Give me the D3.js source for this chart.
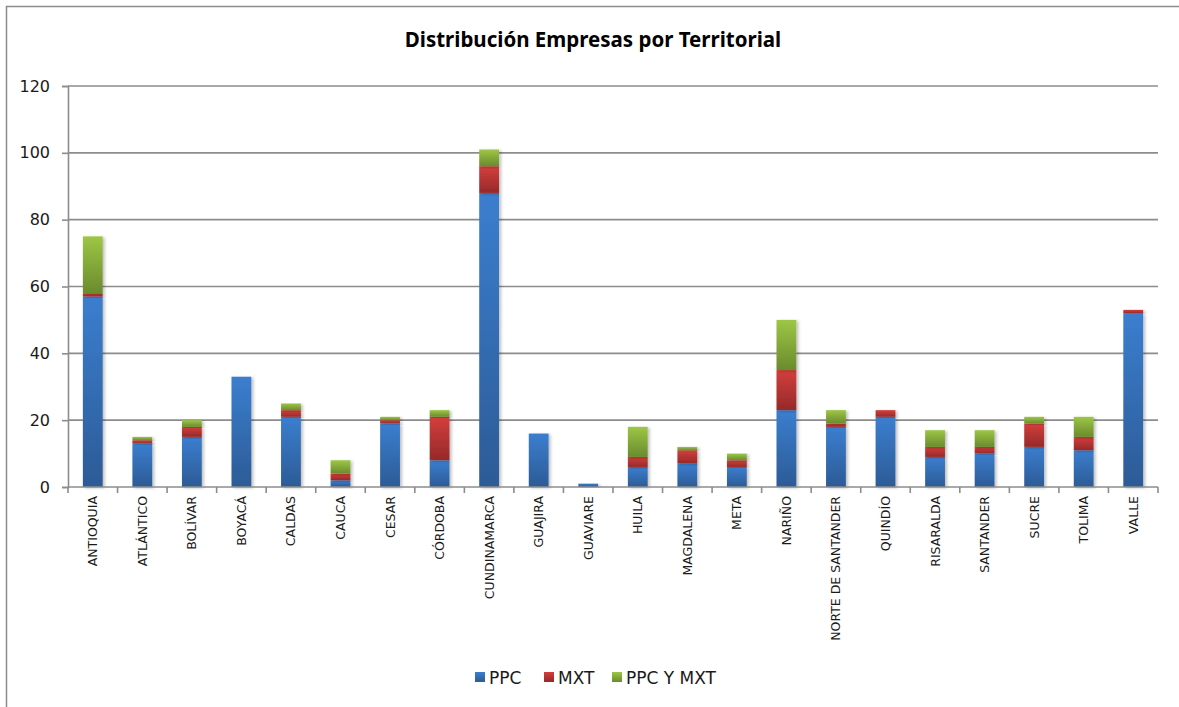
<!DOCTYPE html>
<html>
<head>
<meta charset="utf-8">
<script src="https://cdn.jsdelivr.net/npm/d3@7"></script>
<style>
  body { margin: 0; background: #fff; }
  text { font-family: "DejaVu Sans", sans-serif; fill: #1a1a1a; }
</style>
</head>
<body>
<svg id="chart"></svg>
<script>
var territoriales = ["ANTIOQUIA", "ATLÁNTICO", "BOLÍVAR", "BOYACÁ", "CALDAS", "CAUCA", "CESAR",
  "CÓRDOBA", "CUNDINAMARCA", "GUAJIRA", "GUAVIARE", "HUILA", "MAGDALENA", "META", "NARIÑO",
  "NORTE DE SANTANDER", "QUINDÍO", "RISARALDA", "SANTANDER", "SUCRE", "TOLIMA", "VALLE"];
var ppc     = [57, 13, 15, 33, 21, 2, 19, 8, 88, 16, 1, 6, 7, 6, 23, 18, 21, 9, 10, 12, 11, 52];
var mxt     = [1, 1, 3, 0, 2, 2, 1, 13, 8, 0, 0, 3, 4, 2, 12, 1, 2, 3, 2, 7, 4, 1];
var ppcYmxt = [17, 1, 2, 0, 2, 4, 1, 2, 5, 0, 0, 9, 1, 2, 15, 4, 0, 5, 5, 2, 6, 0];
var seriesNames = ["PPC", "MXT", "PPC Y MXT"];
var yTicks = [0, 20, 40, 60, 80, 100, 120];

var width = 1179, height = 707;
var margin = {left: 68, right: 21, top: 86, bottom: 220};

var svg = d3.select("#chart").attr("width", width).attr("height", height);

// gradients per series: lighter on top, darker at bottom
var grads = [
  ["#3b7ecf", "#2c5b96"],
  ["#d33f3c", "#96292a"],
  ["#9dc646", "#6a8b2d"]
];
var defs = svg.append("defs");
grads.forEach(function(g, i) {
  var lg = defs.append("linearGradient")
    .attr("id", "g" + i)
    .attr("x1", 0).attr("y1", 0).attr("x2", 0).attr("y2", 1);
  lg.append("stop").attr("offset", "0%").attr("stop-color", g[0]);
  lg.append("stop").attr("offset", "100%").attr("stop-color", g[1]);
});
defs.append("filter").attr("id", "shadow")
    .attr("x", "-20%").attr("y", "-5%").attr("width", "160%").attr("height", "120%")
  .append("feDropShadow")
    .attr("dx", 2).attr("dy", 1).attr("stdDeviation", 1.5)
    .attr("flood-color", "#000").attr("flood-opacity", 0.25);

// outer chart border
svg.append("rect")
  .attr("x", 6.5).attr("y", 6.5)
  .attr("width", width + 10).attr("height", height + 10)
  .attr("fill", "none").attr("stroke", "#8c8c8c").attr("stroke-width", 1.5);

svg.append("text")
  .attr("x", 593).attr("y", 47)
  .attr("text-anchor", "middle")
  .attr("font-size", "20.5px")
  .attr("font-weight", "bold")
  .style("font-family", "'Noto Sans', sans-serif")
  .style("fill", "#000")
  .text("Distribución Empresas por Territorial");

var x = d3.scaleBand()
  .domain(territoriales)
  .range([margin.left, width - margin.right])
  .paddingInner(0.6)
  .paddingOuter(0.3);

var y = d3.scaleLinear()
  .domain([0, 120])
  .range([height - margin.bottom, margin.top]);

// gridlines
svg.append("g")
  .selectAll("line")
  .data(yTicks.slice(1))
  .enter().append("line")
    .attr("x1", margin.left).attr("x2", width - margin.right)
    .attr("y1", d => y(d)).attr("y2", d => y(d))
    .attr("stroke", "#8c8c8c").attr("stroke-width", 1.6);

// y axis
var yAxis = svg.append("g")
  .attr("transform", "translate(" + margin.left + ",0)")
  .call(d3.axisLeft(y).tickValues(yTicks).tickSize(6).tickPadding(12));
yAxis.select(".domain").attr("stroke", "#8c8c8c").attr("stroke-width", 1.6);
yAxis.selectAll(".tick line").attr("stroke", "#8c8c8c").attr("stroke-width", 1.6);
yAxis.selectAll("text").attr("font-size", "16px").attr("fill", "#1a1a1a")
  .style("font-family", "'DejaVu Sans', sans-serif");

// stacked data
var rows = territoriales.map(function(t, i) {
  return {name: t, s0: ppc[i], s1: mxt[i], s2: ppcYmxt[i]};
});
var stack = d3.stack().keys(["s0", "s1", "s2"])(rows);

var layers = svg.append("g")
  .selectAll("g")
  .data(stack)
  .enter().append("g")
    .attr("fill", (d, i) => "url(#g" + i + ")");

layers.selectAll("rect")
  .data(d => d)
  .enter().append("rect")
    .filter(d => d[1] > d[0])
    .attr("x", d => x(d.data.name))
    .attr("width", x.bandwidth())
    .attr("y", d => y(d[1]))
    .attr("height", d => y(d[0]) - y(d[1]))
    .attr("filter", "url(#shadow)");

// x axis with ticks between categories
var step = x.step();
var x0 = margin.left;
var xAxisG = svg.append("g");
xAxisG.append("line")
  .attr("x1", margin.left).attr("x2", width - margin.right)
  .attr("y1", y(0)).attr("y2", y(0))
  .attr("stroke", "#8c8c8c").attr("stroke-width", 1.6);
xAxisG.selectAll(".xt")
  .data(d3.range(territoriales.length + 1))
  .enter().append("line")
    .attr("x1", d => x0 + d * step).attr("x2", d => x0 + d * step)
    .attr("y1", y(0)).attr("y2", y(0) + 6)
    .attr("stroke", "#8c8c8c").attr("stroke-width", 1.6);

xAxisG.selectAll(".xl")
  .data(territoriales)
  .enter().append("text")
    .attr("transform", d => "translate(" + (x(d) + x.bandwidth() / 2 + 4.5) + "," + (y(0) + 9) + ") rotate(-90)")
    .attr("text-anchor", "end")
    .attr("font-size", "12.5px")
    .text(d => d);

// legend
var legendX = [475, 544, 612];
var legend = svg.append("g");
seriesNames.forEach(function(n, i) {
  legend.append("rect")
    .attr("x", legendX[i]).attr("y", 672)
    .attr("width", 10).attr("height", 10)
    .attr("fill", "url(#g" + i + ")");
  legend.append("text")
    .attr("x", legendX[i] + 14).attr("y", 683.5)
    .attr("font-size", "17px")
    .text(n);
});
</script>
</body>
</html>
